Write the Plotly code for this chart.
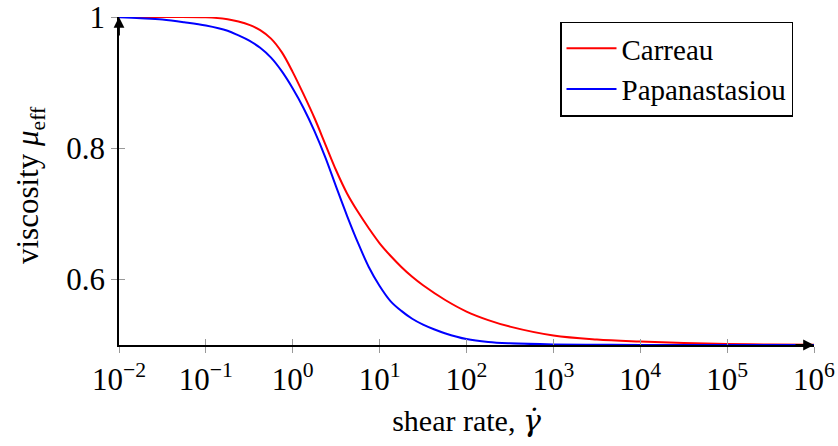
import plotly.graph_objects as go

# log10(shear rate) sample positions and viscosities
carreau_log_rate = [-2.0, -1.5, -1.0, -0.75, -0.625, -0.5, -0.375, -0.25, -0.125, 0.0, 0.125, 0.25,
                    0.375, 0.5, 0.625, 0.75, 0.875, 1.0, 1.125, 1.25, 1.375, 1.5, 1.75, 2.0,
                    2.25, 2.5, 3.0, 3.5, 4.0, 4.5, 5.0, 5.5, 6.0]
carreau = [1.0, 1.0, 0.9995, 0.9965, 0.993, 0.988, 0.980, 0.967, 0.946, 0.916, 0.882, 0.846,
           0.806, 0.766, 0.731, 0.703, 0.678, 0.655, 0.636, 0.619, 0.604, 0.591, 0.569, 0.551,
           0.538, 0.528, 0.5145, 0.5084, 0.5053, 0.503, 0.5015, 0.5007, 0.5003]

papa_log_rate = [-2.0, -1.75, -1.5, -1.25, -1.0, -0.75, -0.625, -0.5, -0.375, -0.25, -0.125,
                 0.0, 0.125, 0.25, 0.375, 0.5, 0.625, 0.75, 0.875, 1.0, 1.125, 1.25, 1.375,
                 1.5, 1.625, 1.75, 2.0, 2.25, 2.5, 3.0, 3.5, 4.0, 5.0, 6.0]
papanastasiou = [0.9995, 0.998, 0.996, 0.992, 0.987, 0.979, 0.972, 0.964, 0.953, 0.938, 0.917,
                 0.891, 0.861, 0.826, 0.786, 0.741, 0.697, 0.656, 0.619, 0.590, 0.567, 0.552, 0.540,
                 0.531, 0.524, 0.518, 0.509, 0.5045, 0.5025, 0.5008, 0.5003, 0.5001, 0.5, 0.5]

series_names = ["Carreau", "Papanastasiou"]
series_colors = ["#ff0000", "#0000ff"]

x_tick_exps = [-2, -1, 0, 1, 2, 3, 4, 5, 6]
y_tick_vals = [0.6, 0.8, 1.0]
y_tick_text = ["0.6", "0.8", "1"]

FONT = "Liberation Serif"
L, R, T, B = 119, 24, 17, 101
W, H = 838, 446
PW, PH = W - L - R, H - T - B

fig = go.Figure()
for name, lx, ys, col in zip(series_names, [carreau_log_rate, papa_log_rate],
                             [carreau, papanastasiou], series_colors):
    fig.add_trace(go.Scatter(x=[10 ** v for v in lx], y=ys, mode="lines", name=name,
                             line=dict(color=col, width=2, shape="spline", smoothing=1.0),
                             cliponaxis=False))

# invisible trace on overlay axes for inside ticks
fig.add_trace(go.Scatter(x=[0.01], y=[1.0], xaxis="x2", yaxis="y2",
                         mode="markers", marker=dict(opacity=0), showlegend=False,
                         hoverinfo="skip"))

tick_text = [f"10<sup>{'−' if e < 0 else ''}{abs(e)}</sup>" for e in x_tick_exps]

fig.update_layout(
    width=W, height=H,
    margin=dict(l=L, r=R, t=T, b=B, autoexpand=False),
    paper_bgcolor="white", plot_bgcolor="white",
    font=dict(family=FONT, color="black", size=30),
    xaxis=dict(type="log", range=[-2, 6], tickvals=[10 ** e for e in x_tick_exps],
               ticktext=tick_text, ticks="outside", ticklen=6, tickcolor="#999999",
               tickwidth=1, showline=True, linecolor="black", linewidth=1.8,
               showgrid=False, zeroline=False, tickfont=dict(size=31),
               ticklabeloverflow="allow", automargin=False,
               title=dict(text='shear rate, <span style="font-family:DejaVu Serif"><i>γ̇</i></span>',
                          font=dict(size=30), standoff=14)),
    yaxis=dict(range=[0.5, 1.0], tickvals=y_tick_vals, ticktext=y_tick_text,
               ticks="outside", ticklen=6, tickcolor="#999999", tickwidth=1,
               showline=True, linecolor="black", linewidth=1.8, showgrid=False,
               zeroline=False, tickfont=dict(size=31), ticklabeloverflow="allow",
               automargin=False),
    xaxis2=dict(type="log", range=[-2, 6], overlaying="x", tickvals=[10 ** e for e in x_tick_exps],
                ticks="inside", ticklen=6, tickcolor="#999999", showticklabels=False,
                showgrid=False, zeroline=False, showline=False, automargin=False),
    yaxis2=dict(range=[0.5, 1.0], overlaying="y", tickvals=y_tick_vals, ticks="inside",
                ticklen=6, tickcolor="#999999", showticklabels=False, showgrid=False,
                zeroline=False, showline=False, automargin=False),
    legend=dict(x=(793 - L) / PW, y=(H - B - 69) / PH, xanchor="right", yanchor="middle",
                bgcolor="white", bordercolor="black", borderwidth=1.5,
                font=dict(size=29, family=FONT), tracegroupgap=0, itemwidth=50),
    showlegend=True,
)

# y-axis title as rotated annotation
fig.add_annotation(text="viscosity <i>μ</i><sub>eff</sub>", textangle=-90,
                   xref="paper", yref="paper", x=(30 - L) / PW, y=(H - B - 185) / PH,
                   xanchor="center", yanchor="middle", showarrow=False,
                   font=dict(size=31, family=FONT, color="black"))

# arrowheads on axes
fig.add_annotation(x=6, y=0.5, xref="x", yref="y", ax=-20, ay=0, axref="pixel", ayref="pixel",
                   showarrow=True, arrowhead=2, arrowsize=1.2, arrowwidth=1.8, arrowcolor="black", text="")
fig.add_annotation(x=-2, y=1.0, xref="x", yref="y", ax=0, ay=20, axref="pixel", ayref="pixel",
                   showarrow=True, arrowhead=2, arrowsize=1.2, arrowwidth=1.8, arrowcolor="black", text="")

fig.write_html("out.html")
